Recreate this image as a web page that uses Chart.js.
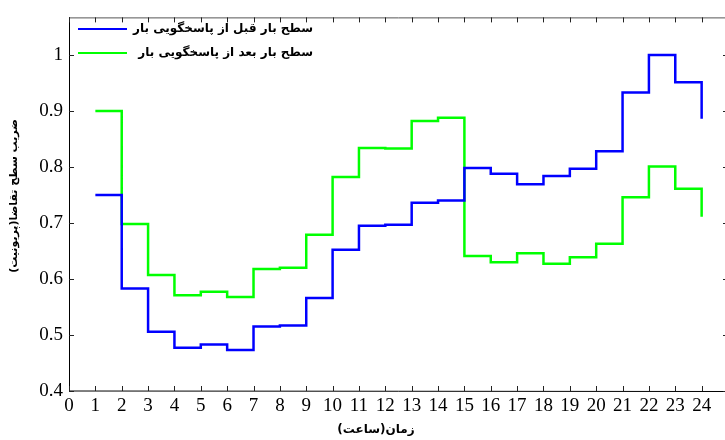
<!DOCTYPE html>
<html>
<head>
<meta charset="utf-8">
<script src="https://cdn.jsdelivr.net/npm/chart.js@4"></script>
<style>
  html, body { margin: 0; padding: 0; background: #fff; overflow: hidden; }
  #wrap { width: 725px; height: 440px; overflow: hidden; }
</style>
</head>
<body>
<div id="wrap"><canvas id="loadChart" width="730" height="440"></canvas></div>
<script>
// hours (stairs start points)
const hours = [1, 2, 3, 4, 5, 6, 7, 8, 9, 10, 11, 12, 13, 14, 15, 16, 17, 18, 19, 20, 21, 22, 23, 24];

// load level before demand response (per unit)
const loadBefore = [0.750, 0.583, 0.506, 0.477, 0.483, 0.473, 0.515, 0.517, 0.566, 0.652, 0.695, 0.697,
                    0.736, 0.740, 0.798, 0.788, 0.769, 0.784, 0.797, 0.828, 0.933, 1.000, 0.951, 0.886];

// load level after demand response (per unit)
const loadAfter = [0.900, 0.698, 0.607, 0.571, 0.577, 0.568, 0.618, 0.620, 0.679, 0.782, 0.834, 0.833,
                   0.882, 0.888, 0.641, 0.630, 0.646, 0.627, 0.639, 0.663, 0.746, 0.801, 0.761, 0.711];

const seriesNames = ['سطح بار قبل از پاسخگویی بار', 'سطح بار بعد از پاسخگویی بار'];
const seriesColors = ['#0000FF', '#00FF00'];

const xTicks = [0, 1, 2, 3, 4, 5, 6, 7, 8, 9, 10, 11, 12, 13, 14, 15, 16, 17, 18, 19, 20, 21, 22, 23, 24];
const yTicks = [0.4, 0.5, 0.6, 0.7, 0.8, 0.9, 1];

const xTitle = 'زمان(ساعت)';
const yTitle = 'ضریب سطح تقاضا(پریونیت)';

const tickFont = { family: '"Liberation Serif", serif', size: 19 };

// frame, inward ticks, legend and axis titles drawn by hand (MATLAB look)
const matlabFrame = {
    id: 'matlabFrame',
    afterDraw(chart) {
        const ctx = chart.ctx;
        const area = chart.chartArea;
        const xs = chart.scales.x;
        const ys = chart.scales.y;
        ctx.save();

        // box
        ctx.lineWidth = 1;
        ctx.strokeStyle = '#555';
        ctx.beginPath();
        ctx.moveTo(area.left, area.top + 0.5);
        ctx.lineTo(area.right, area.top + 0.5);
        ctx.moveTo(area.right - 0.5, area.top);
        ctx.lineTo(area.right - 0.5, area.bottom);
        ctx.stroke();
        ctx.strokeStyle = '#000';
        ctx.beginPath();
        ctx.moveTo(area.left + 0.5, area.top);
        ctx.lineTo(area.left + 0.5, area.bottom);
        ctx.lineTo(area.right, area.bottom + 0.5);
        ctx.stroke();

        // inward ticks
        const tl = 5;
        ctx.strokeStyle = '#222';
        ctx.beginPath();
        xTicks.forEach((v) => {
            const px = Math.round(xs.getPixelForValue(v)) + 0.5;
            ctx.moveTo(px, area.bottom);
            ctx.lineTo(px, area.bottom - tl);
            ctx.moveTo(px, area.top);
            ctx.lineTo(px, area.top + tl);
        });
        yTicks.forEach((v) => {
            const py = Math.round(ys.getPixelForValue(v)) + 0.5;
            ctx.moveTo(area.left, py);
            ctx.lineTo(area.left + tl, py);
            ctx.moveTo(area.right, py);
            ctx.lineTo(area.right - tl, py);
        });
        ctx.stroke();

        // legend
        ctx.font = 'bold 12px "DejaVu Sans", sans-serif';
        ctx.textBaseline = 'middle';
        ctx.textAlign = 'right';
        ctx.direction = 'rtl';
        seriesNames.forEach((name, i) => {
            const ly = 29 + i * 24;
            ctx.strokeStyle = seriesColors[i];
            ctx.lineWidth = 2;
            ctx.beginPath();
            ctx.moveTo(78, ly);
            ctx.lineTo(127, ly);
            ctx.stroke();
            ctx.fillStyle = '#000';
            ctx.fillText(name, 313, ly);
        });

        // axis titles
        ctx.textAlign = 'center';
        ctx.fillText(xTitle, 376, 430);
        ctx.font = 'bold 11px "DejaVu Sans", sans-serif';
        ctx.translate(14, 196);
        ctx.rotate(-Math.PI / 2);
        ctx.fillText(yTitle, 0, 0);

        ctx.restore();
    }
};

const ctx = document.getElementById('loadChart').getContext('2d');
new Chart(ctx, {
    type: 'line',
    data: {
        datasets: [
            {
                label: seriesNames[0],
                data: hours.map((h, i) => ({ x: h, y: loadBefore[i] })),
                borderColor: seriesColors[0],
                borderWidth: 2.5,
                stepped: 'before',
                pointRadius: 0,
                fill: false,
            },
            {
                label: seriesNames[1],
                data: hours.map((h, i) => ({ x: h, y: loadAfter[i] })),
                borderColor: seriesColors[1],
                borderWidth: 2.5,
                stepped: 'before',
                pointRadius: 0,
                fill: false,
            },
        ],
    },
    options: {
        responsive: false,
        animation: false,
        layout: { padding: { top: 15, right: 2, left: 0, bottom: 0 } },
        plugins: {
            legend: { display: false },
            tooltip: { enabled: false },
        },
        scales: {
            x: {
                type: 'linear',
                min: 0,
                max: 25,
                afterBuildTicks: (scale) => { scale.ticks = xTicks.map((v) => ({ value: v })); },
                afterFit: (scale) => { scale.height = 49; },
                grid: { drawOnChartArea: false, drawTicks: false },
                border: { display: false },
                ticks: { font: tickFont, color: '#000', padding: 4, maxRotation: 0, autoSkip: false },
            },
            y: {
                min: 0.4,
                max: 1.067,
                afterBuildTicks: (scale) => { scale.ticks = yTicks.map((v) => ({ value: v })); },
                afterFit: (scale) => { scale.width = 69; },
                grid: { drawOnChartArea: false, drawTicks: false },
                border: { display: false },
                ticks: { font: tickFont, color: '#000', padding: 6, callback: (v) => String(v) },
            },
        },
    },
    plugins: [matlabFrame],
});
</script>
</body>
</html>
